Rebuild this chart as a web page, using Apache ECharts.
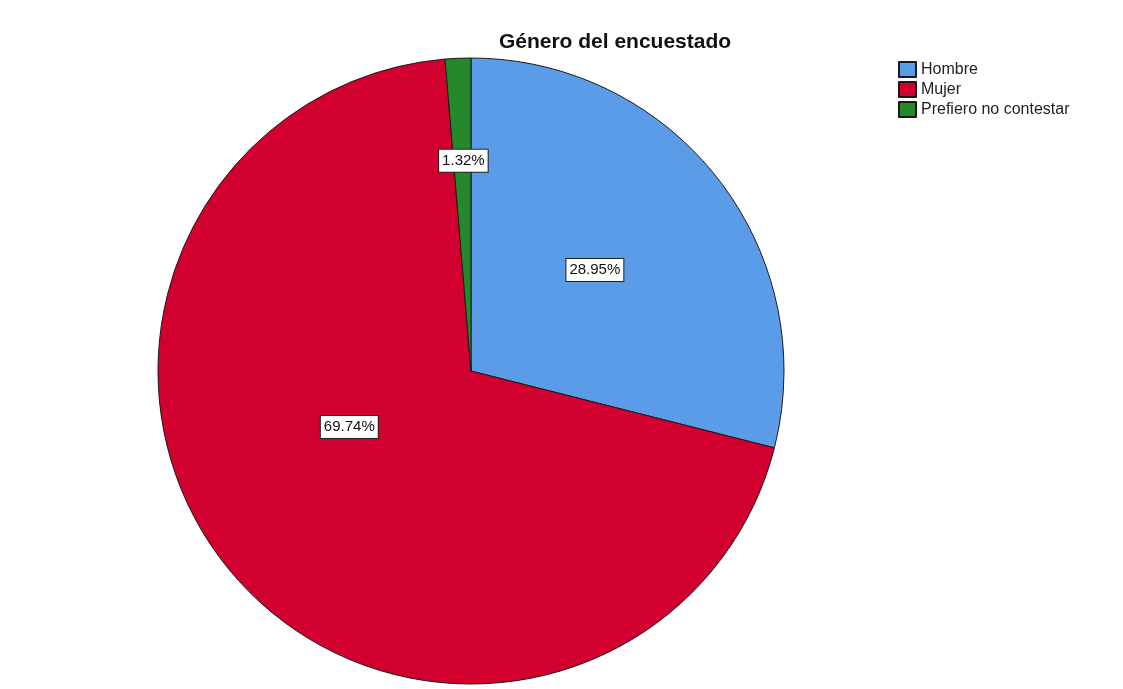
<!DOCTYPE html>
<html>
<head>
<meta charset="utf-8">
<script src="https://cdn.jsdelivr.net/npm/echarts@6/dist/echarts.min.js"></script>
<style>
  html, body { margin: 0; padding: 0; background: #ffffff; }
  #chart { width: 1123px; height: 689px; }
</style>
</head>
<body>
<div id="chart"></div>
<script>
// Respuestas a la pregunta de género (porcentaje de encuestados)
const categories = ['Hombre', 'Mujer', 'Prefiero no contestar'];
const percentages = [28.95, 69.74, 1.32];
const sliceColors = ['#5B9CE9', '#D2002F', '#23892A'];

const chart = echarts.init(document.getElementById('chart'), null, { renderer: 'canvas' });

// small vertical nudges for the inside labels, per slice
const labelNudge = [[-2, -3], [0, -47], [-1, -51]];

chart.setOption({
  backgroundColor: '#ffffff',
  animation: false,
  title: {
    text: 'Género del encuestado',
    left: 615,
    top: 32,
    padding: 0,
    textAlign: 'center',
    textStyle: { fontFamily: 'Liberation Sans, Arial, sans-serif', fontSize: 21, fontWeight: 'bold', color: '#111' }
  },
  legend: {
    orient: 'vertical',
    left: 898,
    top: 61,
    padding: 0,
    itemWidth: 17,
    itemHeight: 15,
    itemGap: 3,
    icon: 'rect',
    selectedMode: false,
    textStyle: { fontFamily: 'Liberation Sans, Arial, sans-serif', fontSize: 16, color: '#222' },
    data: categories
  },
  series: [{
    type: 'pie',
    center: [471, 371],
    radius: 313,
    startAngle: 90,
    clockwise: true,
    avoidLabelOverlap: false,
    itemStyle: { borderColor: '#1a1a1a', borderWidth: 1 },
    label: {
      show: true,
      position: 'inside',
      formatter: p => p.value.toFixed(2) + '%',
      fontFamily: 'Liberation Sans, Arial, sans-serif',
      fontSize: 15,
      color: '#111',
      backgroundColor: '#ffffff',
      borderColor: '#222',
      borderWidth: 1,
      padding: [4, 3, 3, 3]
    },
    labelLayout: p => ({ dx: labelNudge[p.dataIndex][0], dy: labelNudge[p.dataIndex][1] }),
    emphasis: { disabled: true },
    data: categories.map((name, i) => ({
      name: name,
      value: percentages[i],
      itemStyle: { color: sliceColors[i] }
    }))
  }]
});
</script>
</body>
</html>
